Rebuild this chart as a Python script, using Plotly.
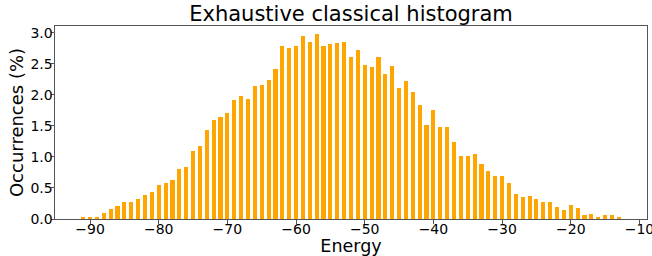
import plotly.graph_objects as go

energies = list(range(-91, -12))
occurrences = [
    0.03, 0.03, 0.03, 0.09, 0.16, 0.21, 0.27, 0.28, 0.32, 0.38,   # -91..-82
    0.44, 0.55, 0.58, 0.63, 0.81, 0.84, 1.09, 1.18, 1.43, 1.59,   # -81..-72
    1.64, 1.71, 1.92, 1.99, 1.93, 2.14, 2.16, 2.24, 2.42, 2.79,   # -71..-62
    2.76, 2.78, 2.95, 2.86, 2.98, 2.79, 2.82, 2.83, 2.86, 2.61,   # -61..-52
    2.72, 2.48, 2.45, 2.61, 2.34, 2.47, 2.11, 2.22, 2.04, 1.84,   # -51..-42
    1.51, 1.76, 1.49, 1.48, 1.24, 1.02, 1.02, 1.05, 0.88, 0.77,   # -41..-32
    0.70, 0.70, 0.58, 0.40, 0.36, 0.37, 0.32, 0.28, 0.28, 0.19,   # -31..-22
    0.15, 0.23, 0.17, 0.06, 0.08, 0.04, 0.06, 0.06, 0.04,         # -21..-13
]
x_ticks = [-90, -80, -70, -60, -50, -40, -30, -20, -10]
x_tick_labels = ["\u221290", "\u221280", "\u221270", "\u221260", "\u221250",
                 "\u221240", "\u221230", "\u221220", "\u221210"]
y_ticks = [0.0, 0.5, 1.0, 1.5, 2.0, 2.5, 3.0]
y_tick_labels = ["0.0", "0.5", "1.0", "1.5", "2.0", "2.5", "3.0"]

fig = go.Figure(go.Bar(
    x=energies, y=occurrences, width=0.6,
    marker=dict(color="#FFA500", line=dict(width=0)),
))

font = "DejaVu Sans"
W, H = 652, 256
fig.update_layout(
    width=W, height=H,
    margin=dict(l=55, r=5, t=26, b=37, autoexpand=False),
    paper_bgcolor="white", plot_bgcolor="white",
    showlegend=False,
    bargap=0,
    title=dict(text="Exhaustive classical histogram", x=0.5, xanchor="center",
               xref="paper", y=1 - 14 / H, yanchor="middle",
               font=dict(family=font, size=21, color="black")),
    font=dict(family=font, color="black"),
)
fig.update_xaxes(
    range=[-95.1, -8.9], tickvals=x_ticks, ticktext=x_tick_labels,
    showgrid=False, zeroline=False, showline=True, mirror=True, automargin=False,
    linecolor="#555555", linewidth=1, ticks="outside", ticklen=3.5,
    ticklabelstandoff=-6, ticklabeloverflow="allow",
    tickcolor="#555555", tickfont=dict(family=font, size=14, color="black"),
    title=dict(text="Energy", font=dict(family=font, size=17.5, color="black"), standoff=9),
)
fig.update_yaxes(
    range=[0, 3.11], tickvals=y_ticks, ticktext=y_tick_labels,
    showgrid=False, zeroline=False, showline=True, mirror=True, automargin=False,
    linecolor="#555555", linewidth=1, ticks="outside", ticklen=3.5,
    ticklabelstandoff=-5, ticklabeloverflow="allow",
    tickcolor="#555555", tickfont=dict(family=font, size=14, color="black"),
    title=dict(text="Occurrences (%)", font=dict(family=font, size=18, color="black"), standoff=2),
)

fig.write_html("out.html", config={"displayModeBar": False},
               post_script="document.body.style.margin='0';")
